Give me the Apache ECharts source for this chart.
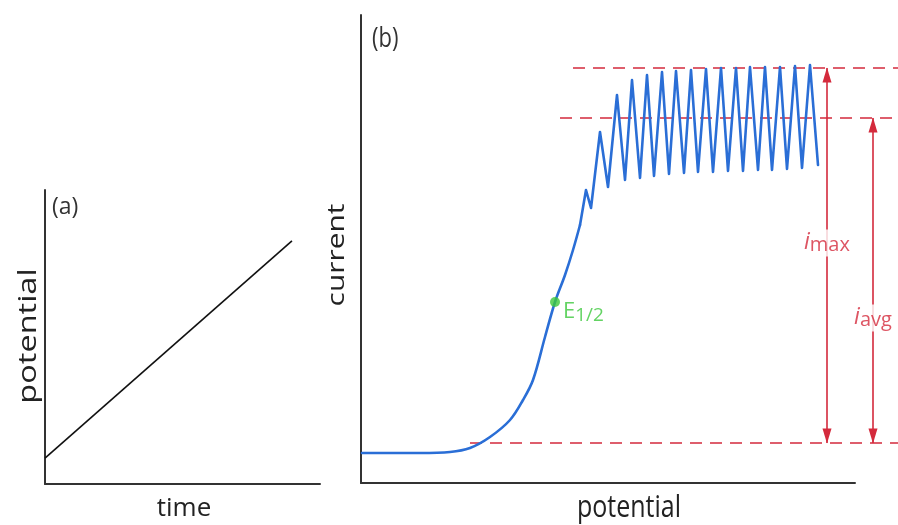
<!DOCTYPE html>
<html><head><meta charset="utf-8">
<script src="https://cdn.jsdelivr.net/npm/echarts@6/dist/echarts.min.js"></script>
<style>html,body{margin:0;padding:0;background:#fff}#c{width:898px;height:525px}</style>
</head><body><div id="c"></div>
<script>
// Panel (a): linear potential ramp vs time (arbitrary units)
const rampTime = [0, 89.8];
const rampPotential = [8.8, 82.7];

// Panel (b): current vs potential (arbitrary units)
// rising wave (smooth part)
const wavePotential = [1,59,89,109,129,149,162,172,184,194,204,212,219];
const waveCurrent   = [30,30,31,35,46,63,83,103,146,181,208,233,258];
// oscillating plateau (sharp part), starts at the last wave point
const plateauPotential = [219,225,230,239,247,256,264,271,279,286,293,301,308,315,323,330,337,345,352,360,367,375,382,389,397,404,411,419,426,434,441,449,457];
const plateauCurrent   = [258,293,275,351,296,388,303,403,305,408,307,411,309,412,310,413,311,414,311,415,312,415,312,416,313,416,313,416,314,417,315,418,318];

// Half-wave point
const halfPotential = 194;
const halfCurrent = 181;

// Reference levels
const baseLevel = 40;
const iAvgLevel = 365;
const iMaxLevel = 415;
const levelStart = { base: 109, avg: 199, max: 212 };
const levelEnd = 537;
const iMaxPotential = 466;
const iAvgPotential = 512;
const iMaxLabelCurrent = 240;
const iAvgLabelCurrent = 165;

// Axis extents (arbitrary units)
const rampMax = 100;
const potentialAxisMax = 494;   // drawn x-axis length
const potentialPlotMax = 537;   // annotation area reaches past axis end
const currentMax = 468;

const RED = '#d42a3c';
const BLUE = '#2a6ed6';
const GREEN = '#3cc83c';
const AXIS = '#333';
const TXT = '#222';
const FONT = 'Open Sans';

const chart = echarts.init(document.getElementById('c'), null, {renderer: 'canvas'});

const axisCommon = {
  type: 'value', min: 0,
  axisLine: {show: true, onZero: false, lineStyle: {color: AXIS, width: 2}},
  axisTick: {show: false}, axisLabel: {show: false}, splitLine: {show: false}
};
const hiddenAxis = {type: 'value', min: 0, show: false, axisLine: {show: false}, axisTick: {show: false}, axisLabel: {show: false}, splitLine: {show: false}};

function arrowSeries(x, y0, y1) {
  return {
    type: 'line', xAxisIndex: 2, yAxisIndex: 2, clip: false, z: 3,
    symbol: 'triangle', symbolSize: [9, 15], showSymbol: true,
    itemStyle: {color: RED}, lineStyle: {color: RED, width: 1.6},
    emphasis: {disabled: true}, silent: true,
    data: [
      {value: [x, y0], symbolRotate: 180, symbolOffset: [0, -7]},
      {value: [x, y1], symbolRotate: 0, symbolOffset: [0, 7]}
    ]
  };
}
function dashed(x0, y) {
  return {
    type: 'line', xAxisIndex: 2, yAxisIndex: 2, symbol: 'none', clip: false, z: 2, silent: true,
    lineStyle: {color: RED, width: 1.6, type: [12, 8]},
    data: [[x0, y], [levelEnd, y]]
  };
}

const option = {
  animation: false,
  backgroundColor: '#fff',
  grid: [
    {left: 45, top: 190, width: 275, height: 294, outerBoundsMode: 'none', containLabel: false},
    {left: 361, top: 15, width: 494, height: 468, outerBoundsMode: 'none', containLabel: false},
    {left: 361, top: 15, width: 537, height: 468, outerBoundsMode: 'none', containLabel: false}
  ],
  xAxis: [
    Object.assign({}, axisCommon, {gridIndex: 0, max: rampMax}),
    Object.assign({}, axisCommon, {gridIndex: 1, max: potentialAxisMax}),
    Object.assign({}, hiddenAxis, {gridIndex: 2, max: potentialPlotMax})
  ],
  yAxis: [
    Object.assign({}, axisCommon, {gridIndex: 0, max: rampMax}),
    Object.assign({}, axisCommon, {gridIndex: 1, max: currentMax}),
    Object.assign({}, hiddenAxis, {gridIndex: 2, max: currentMax})
  ],
  graphic: [
    {type: 'text', x: 52, y: 196, style: {text: '(a)', fontFamily: FONT, fontSize: 23, fill: '#333', textAlign: 'left', textVerticalAlign: 'top'}},
    {type: 'text', x: 372, y: 25, scaleY: 1.25, style: {text: '(b)', fontFamily: FONT, fontSize: 22, fill: '#333', textAlign: 'left', textVerticalAlign: 'top'}},
    {type: 'text', x: 184, y: 509, style: {text: 'time', fontFamily: FONT, fontSize: 26, fill: TXT, textAlign: 'center', textVerticalAlign: 'middle'}},
    {type: 'text', x: 29, y: 336, rotation: Math.PI / 2, scaleX: 1.3, style: {text: 'potential', fontFamily: FONT, fontSize: 25, fill: TXT, textAlign: 'center', textVerticalAlign: 'middle'}},
    {type: 'text', x: 629, y: 508, scaleY: 1.25, style: {text: 'potential', fontFamily: FONT, fontSize: 25, fill: TXT, textAlign: 'center', textVerticalAlign: 'middle'}},
    {type: 'text', x: 337, y: 255, rotation: Math.PI / 2, scaleX: 1.3, style: {text: 'current', fontFamily: FONT, fontSize: 23, fill: TXT, textAlign: 'center', textVerticalAlign: 'middle'}}
  ],
  series: [
    {
      type: 'line', xAxisIndex: 0, yAxisIndex: 0, symbol: 'none', silent: true,
      lineStyle: {color: '#111', width: 1.6},
      data: rampTime.map((t, i) => [t, rampPotential[i]])
    },
    dashed(levelStart.max, iMaxLevel),
    dashed(levelStart.avg, iAvgLevel),
    dashed(levelStart.base, baseLevel),
    arrowSeries(iMaxPotential, baseLevel, iMaxLevel),
    arrowSeries(iAvgPotential, baseLevel, iAvgLevel),
    {
      type: 'line', xAxisIndex: 2, yAxisIndex: 2, symbol: 'none', z: 4, silent: true, smooth: 0.35,
      lineStyle: {color: BLUE, width: 2.6, cap: 'round', join: 'round'},
      data: wavePotential.map((p, i) => [p, waveCurrent[i]])
    },
    {
      type: 'line', xAxisIndex: 2, yAxisIndex: 2, symbol: 'none', z: 4, silent: true,
      lineStyle: {color: BLUE, width: 2.6, cap: 'round', join: 'round'},
      data: plateauPotential.map((p, i) => [p, plateauCurrent[i]])
    },
    {
      type: 'scatter', xAxisIndex: 2, yAxisIndex: 2, z: 5, silent: true,
      symbolSize: 10, itemStyle: {color: GREEN},
      data: [[halfPotential, halfCurrent]],
      label: {
        show: true, position: 'right', distance: 3, offset: [0, 11],
        formatter: '{e|E}{s|1/2}',
        rich: {
          e: {fontFamily: FONT, fontSize: 22, color: GREEN, lineHeight: 24, verticalAlign: 'top'},
          s: {fontFamily: FONT, fontSize: 19, color: GREEN, lineHeight: 19, verticalAlign: 'bottom', padding: [12, 0, 0, 0]}
        }
      }
    },
    {
      type: 'scatter', xAxisIndex: 2, yAxisIndex: 2, z: 6, clip: false, silent: true,
      symbolSize: 0,
      data: [
        {value: [iMaxPotential, iMaxLabelCurrent], name: 'max'},
        {value: [iAvgPotential, iAvgLabelCurrent], name: 'avg'}
      ],
      label: {
        show: true, position: 'inside',
        backgroundColor: '#fff', padding: [1, 1, 1, 1],
        formatter: p => '{i|i}{s|' + p.name + '}',
        rich: {
          i: {fontFamily: FONT, fontSize: 23, fontStyle: 'italic', color: RED, lineHeight: 25, verticalAlign: 'top'},
          s: {fontFamily: FONT, fontSize: 20, color: RED, lineHeight: 20, verticalAlign: 'bottom', padding: [12, 0, 0, 0]}
        }
      }
    }
  ]
};
chart.setOption(option);
</script>
</body></html>
